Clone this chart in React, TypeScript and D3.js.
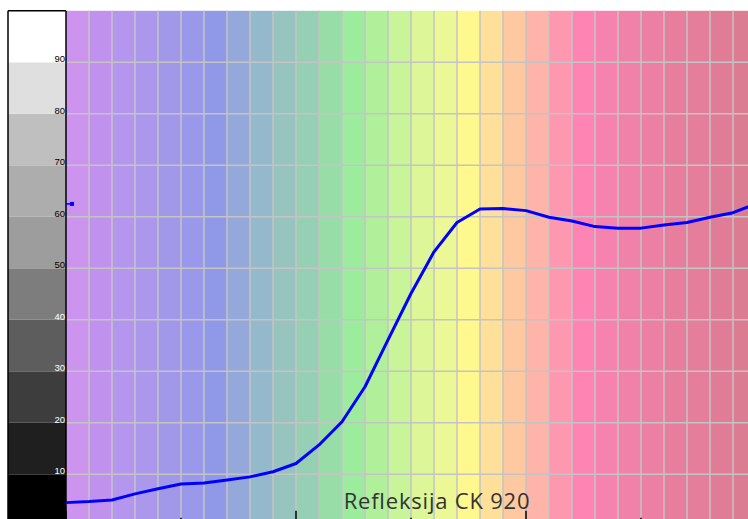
import { line, range, scaleLinear, curveLinear } from 'd3';

// measured every 10 nm, 400..700
const wavelengths = range(400, 701, 10);
const reflectance = [
  4.5, 4.7, 5.0, 6.2, 7.2, 8.1, 8.3, 8.9, 9.5, 10.5,
  12.1, 15.7, 20.2, 27.0, 36.1, 45.1, 53.2, 58.9, 61.5, 61.6,
  61.2, 59.9, 59.2, 58.1, 57.8, 57.8, 58.4, 58.9, 59.9, 60.8, 62.5,
];

// one band of the spectrum behind each 10 nm step
const bandColors = [
  '#cc94ee', '#c092ee', '#b496ee', '#ab98ec', '#a298ea', '#9a98ea', '#9099e8', '#94a8da',
  '#94b8cc', '#98c4c0', '#96d0b4', '#98dca8', '#9cec9e', '#b0f09a', '#c8f49a', '#dcf698',
  '#ecf896', '#fef88e', '#fee09a', '#fec8a0', '#feb4a8', '#fe98b0', '#fe84b4', '#f682b0',
  '#f082aa', '#ec80a4', '#e87e9e', '#e47e9a', '#e07c96', '#dc7c92',
];

// gray scale reference, 0..10 up to 90..100
const grayLevels = ['#000000', '#1f1f1f', '#3d3d3d', '#5d5d5d', '#7d7d7d', '#9d9d9d', '#adadad', '#bfbfbf', '#dfdfdf', '#ffffff'];
const yTicks = [10, 20, 30, 40, 50, 60, 70, 80, 90];
const majorTicks = [400, 500, 600, 700];
const minorTicks = [450, 550, 650];

const title = 'Refleksija CK 920';

const width = 748;
const height = 519;
const plotLeft = 66;
const grayLeft = 8;

export default function App() {
  const x = scaleLinear().domain([400, 700]).range([plotLeft, plotLeft + 690]);
  const y = scaleLinear().domain([0, 100]).range([525.8, 10.8]);
  const step = x(410) - x(400);

  const path = line<number>()
    .x((_, i) => x(wavelengths[i]))
    .y(d => y(d))
    .curve(curveLinear)(reflectance) ?? '';

  const last = reflectance[reflectance.length - 1];

  return (
    <svg width={width} height={height} style={{ position: 'absolute', left: 0, top: 0, background: '#fff' }}>
      {bandColors.map((c, i) => (
        <rect key={i} x={x(wavelengths[i])} y={y(100)} width={step + 0.5} height={y(0) - y(100)} fill={c} />
      ))}

      {wavelengths.slice(1).map(w => (
        <line key={w} x1={x(w)} x2={x(w)} y1={y(100)} y2={y(0)} stroke="#c4c4c4" strokeWidth={1.5} />
      ))}
      {yTicks.map(t => (
        <line key={t} x1={plotLeft} x2={width} y1={y(t)} y2={y(t)} stroke="#c4c4c4" strokeWidth={1.5} />
      ))}

      {grayLevels.map((c, i) => (
        <rect key={i} x={grayLeft} y={y((i + 1) * 10)} width={plotLeft - grayLeft} height={y(i * 10) - y((i + 1) * 10)} fill={c} />
      ))}
      <line x1={grayLeft} x2={grayLeft} y1={y(100)} y2={y(0)} stroke="#000" strokeWidth={1.5} />
      <line x1={grayLeft} x2={plotLeft} y1={y(100)} y2={y(100)} stroke="#000" strokeWidth={1.5} />
      <line x1={plotLeft} x2={plotLeft} y1={y(100)} y2={y(0)} stroke="#000" strokeWidth={1.5} />
      {yTicks.map(t => (
        <text key={t} x={plotLeft - 1} y={y(t)} textAnchor="end" fontFamily="Liberation Sans, Arial, sans-serif" fontSize={9.5}
          fill={t >= 50 ? '#000' : '#fff'}>{t}</text>
      ))}

      {majorTicks.map(t => (
        <line key={t} x1={x(t)} x2={x(t)} y1={y(0) - 15} y2={y(0)} stroke="#000" strokeWidth={1.5} />
      ))}
      {minorTicks.map(t => (
        <line key={t} x1={x(t)} x2={x(t)} y1={y(0) - 8} y2={y(0)} stroke="#000" strokeWidth={1.5} />
      ))}

      <path d={path} fill="none" stroke="#0000ff" strokeWidth={3} strokeLinejoin="round" />

      <line x1={plotLeft} x2={plotLeft + 6} y1={y(last)} y2={y(last)} stroke="#0000ff" strokeWidth={1.5} />
      <rect x={plotLeft + 4} y={y(last) - 2} width={4} height={4} fill="#0000ff" />

      <text x={437} y={509} textAnchor="middle" fontFamily="Open Sans, sans-serif" fontSize={22} letterSpacing={0.8} fill="#333">{title}</text>
    </svg>
  );
}
